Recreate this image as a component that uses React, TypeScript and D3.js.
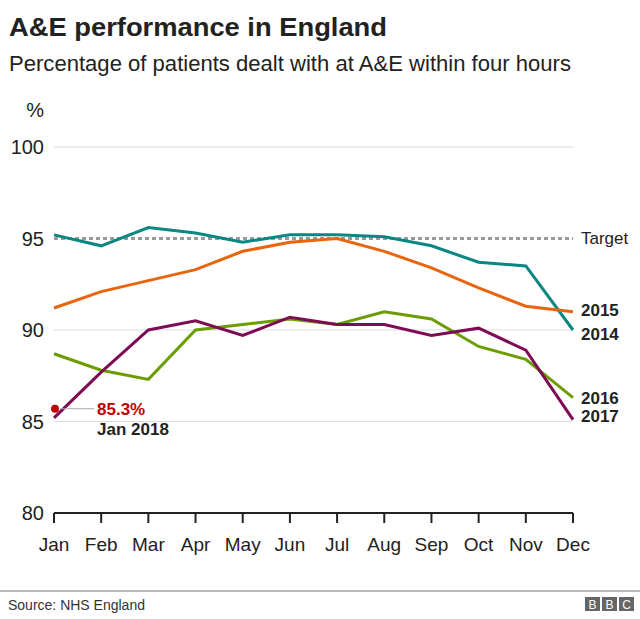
import React from "react";
import * as d3 from "d3";

const months = ["Jan", "Feb", "Mar", "Apr", "May", "Jun", "Jul", "Aug", "Sep", "Oct", "Nov", "Dec"];
const yTicks = [80, 85, 90, 95, 100];
const gridValues = [85, 90, 100];
const targetValue = 95;

const s2014 = [95.2, 94.6, 95.6, 95.3, 94.8, 95.2, 95.2, 95.1, 94.6, 93.7, 93.5, 90.0];
const s2015 = [91.2, 92.1, 92.7, 93.3, 94.3, 94.8, 95.0, 94.3, 93.4, 92.3, 91.3, 91.0];
const s2016 = [88.7, 87.8, 87.3, 90.0, 90.3, 90.6, 90.3, 91.0, 90.6, 89.1, 88.4, 86.3];
const s2017 = [85.2, 87.7, 90.0, 90.5, 89.7, 90.7, 90.3, 90.3, 89.7, 90.1, 88.9, 85.1];

const seriesNames = ["2014", "2015", "2016", "2017"];
const seriesColors = ["#0a8782", "#e8650d", "#6c9d00", "#7e0c55"];
const seriesLabelValues = [89.8, 91.1, 86.3, 85.3];

const jan2018Value = 85.3;
const jan2018MarkerValue = 85.7;

const FONT = "'Liberation Sans', Arial, Helvetica, sans-serif";

export default function App() {
  const width = 640;
  const height = 619;
  const left = 54;
  const right = 573;
  const top = 147;
  const bottom = 513;

  const x = d3.scalePoint<string>().domain(months).range([left, right]);
  const y = d3.scaleLinear().domain([80, 100]).range([bottom, top]);

  const allSeries = [s2014, s2015, s2016, s2017];
  const line = d3
    .line<number>()
    .x((_, i) => x(months[i]) as number)
    .y((d) => y(d));

  const janX = x("Jan") as number;

  return (
    <svg
      width={width}
      height={height}
      style={{ position: "absolute", left: 0, top: 0, background: "#fff" }}
      fontFamily={FONT}
    >
      <rect x={0} y={0} width={width} height={height} fill="#fff" />
      <text
        x={9}
        y={36}
        fontSize={26.5}
        fontWeight="bold"
        fill="#222"
        textLength={378}
        lengthAdjust="spacingAndGlyphs"
      >
        A&amp;E performance in England
      </text>
      <text x={9} y={71} fontSize={21.5} fill="#222" textLength={562} lengthAdjust="spacingAndGlyphs">
        Percentage of patients dealt with at A&amp;E within four hours
      </text>
      <text x={44} y={117} fontSize={20} fill="#222" textAnchor="end">
        %
      </text>

      {gridValues.map((v) => (
        <line key={v} x1={left} x2={right} y1={y(v)} y2={y(v)} stroke="#dcdcdc" strokeWidth={1} />
      ))}

      {yTicks.map((v) => (
        <text key={v} x={44} y={y(v)} dy="0.35em" fontSize={20} fill="#222" textAnchor="end">
          {v}
        </text>
      ))}

      <line
        x1={left}
        x2={right}
        y1={y(targetValue)}
        y2={y(targetValue)}
        stroke="#999"
        strokeWidth={3}
        strokeDasharray="4,3"
      />
      <text x={581} y={y(targetValue)} dy="0.35em" fontSize={17} fill="#222">
        Target
      </text>

      <line x1={left} x2={right} y1={bottom} y2={bottom} stroke="#222" strokeWidth={2} />
      {months.map((m) => (
        <g key={m}>
          <line x1={x(m)} x2={x(m)} y1={bottom} y2={bottom + 10} stroke="#222" strokeWidth={2} />
          <text x={x(m)} y={bottom + 38} fontSize={19} fill="#222" textAnchor="middle">
            {m}
          </text>
        </g>
      ))}

      {allSeries.map((s, i) => (
        <path
          key={seriesNames[i]}
          d={line(s) as string}
          fill="none"
          stroke={seriesColors[i]}
          strokeWidth={3}
          strokeLinejoin="miter"
        />
      ))}

      {seriesNames.map((n, i) => (
        <text
          key={n}
          x={581}
          y={y(seriesLabelValues[i])}
          dy="0.35em"
          fontSize={17}
          fontWeight="bold"
          fill="#222"
        >
          {n}
        </text>
      ))}

      <line
        x1={janX + 6}
        x2={janX + 40}
        y1={y(jan2018MarkerValue)}
        y2={y(jan2018MarkerValue)}
        stroke="#aaa"
        strokeWidth={1}
      />
      <circle cx={janX + 1} cy={y(jan2018MarkerValue)} r={4} fill="#c00000" />
      <text
        x={janX + 43}
        y={y(jan2018MarkerValue)}
        dy="0.35em"
        fontSize={17}
        fontWeight="bold"
        fill="#c00000"
      >
        {jan2018Value}%
      </text>
      <text
        x={janX + 43}
        y={y(jan2018MarkerValue) + 20}
        dy="0.35em"
        fontSize={17}
        fontWeight="bold"
        fill="#222"
      >
        Jan 2018
      </text>

      <line x1={0} x2={width} y1={591} y2={591} stroke="#777" strokeWidth={1} />
      <text x={8} y={610} fontSize={14} fill="#333">
        Source: NHS England
      </text>
      {["B", "B", "C"].map((c, i) => (
        <g key={i}>
          <rect x={585 + i * 17} y={597} width={15} height={14} fill="#666" />
          <text
            x={585 + i * 17 + 7.5}
            y={609}
            fontSize={12}
            fill="#fff"
            textAnchor="middle"
          >
            {c}
          </text>
        </g>
      ))}
    </svg>
  );
}
